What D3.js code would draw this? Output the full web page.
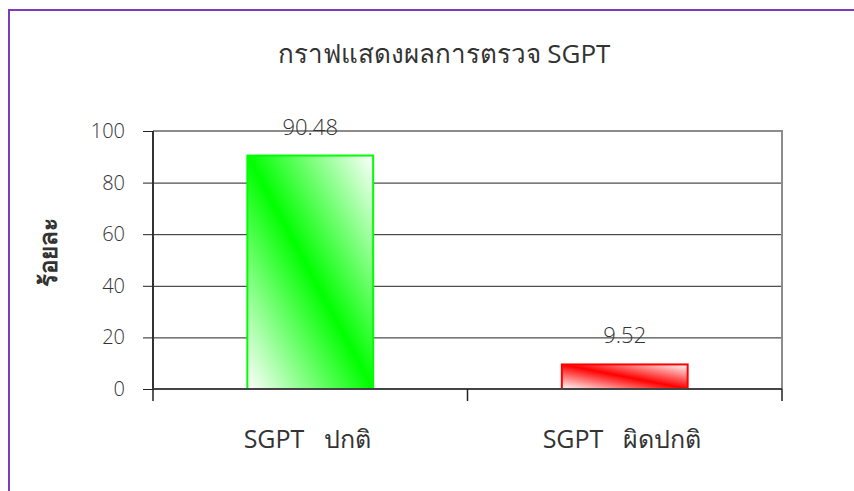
<!DOCTYPE html>
<html><head><meta charset="utf-8">
<script src="https://cdn.jsdelivr.net/npm/d3@7"></script>
<style>
body{margin:0;background:#fff;}
svg{display:block;}
text{font-family:"Open Sans","Noto Sans","DejaVu Sans",sans-serif;fill:#333;}
</style></head>
<body><svg id="c" width="854" height="491"></svg>
<script>
const title = "กราฟแสดงผลการตรวจ SGPT";
const yTitle = "ร้อยละ";
const categories = ["SGPT\u00a0\u00a0\u00a0ปกติ", "SGPT\u00a0\u00a0\u00a0ผิดปกติ"];
const values = [90.48, 9.52];
const labels = ["90.48", "9.52"];
const colors = ["#00ff00", "#ff0000"];
const yTicks = [0, 20, 40, 60, 80, 100];

const svg = d3.select("#c");
const m = {l:153, r:782, t:131, b:389};

// outer border (left & top visible)
svg.append("path").attr("d","M9,491 V10 H854").attr("fill","none").attr("stroke","#7a3fb8").attr("stroke-width",2);

const x = d3.scaleBand().domain(categories).range([m.l, m.r]).paddingInner(0.6).paddingOuter(0.3);
const y = d3.scaleLinear().domain([0,100]).range([m.b, m.t]);

// gradients
const defs = svg.append("defs");
colors.forEach((c,i)=>{
  const g = defs.append("linearGradient").attr("id","g"+i)
    .attr("x1",1).attr("y1",0).attr("x2",0).attr("y2",1);
  g.append("stop").attr("offset","0").attr("stop-color","#fff");
  g.append("stop").attr("offset","0.5").attr("stop-color",c);
  g.append("stop").attr("offset","1").attr("stop-color","#fff");
});

// gridlines
svg.append("g").selectAll("line").data(yTicks.filter(d=>d>0 && d<100)).join("line")
  .attr("x1",m.l).attr("x2",m.r).attr("y1",d=>y(d)+0.5).attr("y2",d=>y(d)+0.5)
  .attr("stroke","#222").attr("stroke-width",1);
// top and right frame
svg.append("path").attr("d",`M${m.l},${y(100)} H${m.r} V${m.b}`).attr("fill","none").attr("stroke","#8c8c8c").attr("stroke-width",2);

// bars
svg.append("g").selectAll("rect").data(values).join("rect")
  .attr("x",(d,i)=>x(categories[i])).attr("width",x.bandwidth())
  .attr("y",d=>y(d)).attr("height",d=>y(0)-y(d))
  .attr("fill",(d,i)=>`url(#g${i})`).attr("stroke",(d,i)=>colors[i]).attr("stroke-width",2);

// y axis
const ya = svg.append("g").attr("transform",`translate(${m.l},0)`)
  .call(d3.axisLeft(y).tickValues(yTicks).tickSize(10).tickPadding(18));
ya.select(".domain").attr("stroke","#333").attr("stroke-width",2).attr("d",`M0,${m.t}V${m.b}`);
ya.selectAll(".tick line").attr("stroke","#222");
ya.selectAll(".tick text").attr("font-size",20).attr("fill","#444").attr("font-family","'Open Sans',sans-serif").style("font-weight",300);

// x axis
const xa = svg.append("g").attr("transform",`translate(0,${m.b})`)
  .call(d3.axisBottom(x).tickSize(0).tickPadding(0));
xa.select(".domain").remove();
xa.selectAll(".tick text").remove();
xa.append("line").attr("x1",m.l).attr("x2",m.r).attr("stroke","#444").attr("stroke-width",2);
const xt = [m.l, (m.l+m.r)/2, m.r];
xa.selectAll("line.sep").data(xt).join("line").attr("class","sep")
  .attr("x1",d=>d).attr("x2",d=>d).attr("y1",0).attr("y2",12).attr("stroke","#222").attr("stroke-width",1.5);
svg.append("g").selectAll("text").data(categories).join("text")
  .attr("x",d=>x(d)+x.bandwidth()/2 - 3).attr("y",448).attr("text-anchor","middle")
  .attr("font-size",25).attr("fill","#3a3a3a").text(d=>d);

// value labels
svg.append("g").selectAll("text").data(values).join("text")
  .attr("x",(d,i)=>x(categories[i])+x.bandwidth()/2).attr("y",d=>y(d)-21)
  .attr("text-anchor","middle").attr("font-size",22).attr("fill","#444").style("font-weight",300).text((d,i)=>labels[i]);

// title
svg.append("text").attr("x",444).attr("y",63).attr("text-anchor","middle").attr("font-size",26).attr("fill","#3a3a3a").text(title);
// y title
svg.append("text").attr("transform","translate(57,252) rotate(-90)").attr("text-anchor","middle")
  .attr("font-size",24).style("font-weight","bold").attr("fill","#111").text(yTitle);
</script></body></html>
